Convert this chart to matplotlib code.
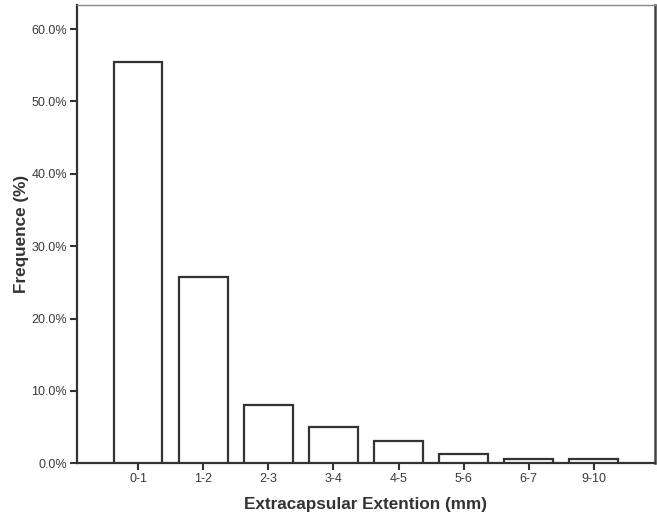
import matplotlib
matplotlib.use("Agg")
from matplotlib import pyplot as plt
from matplotlib.ticker import FuncFormatter

categories = ["0-1", "1-2", "2-3", "3-4", "4-5", "5-6", "6-7", "9-10"]
frequence = [55.4, 25.8, 8.1, 5.0, 3.1, 1.25, 0.6, 0.6]
yticks = [0, 10, 20, 30, 40, 50, 60]

plt.rcParams['font.family'] = ['Liberation Sans', 'DejaVu Sans']
dark = '#333333'

fig = plt.figure(figsize=(6.57, 5.17), dpi=100)
ax = fig.add_axes([0.117, 0.104, 0.88, 0.886])

x = range(len(categories))
ax.bar(x, frequence, width=0.75, color='white', edgecolor=dark, linewidth=1.6, zorder=3)

ax.set_xlim(-0.94, len(categories) - 1 + 0.94)
ax.set_ylim(0, 63.3)
ax.set_xticks(list(x))
ax.set_xticklabels(categories)
ax.set_yticks(yticks)
ax.yaxis.set_major_formatter(FuncFormatter(lambda v, p: f"{v:.1f}%"))

ax.tick_params(axis='both', direction='out', length=5, width=1.5, color=dark,
               labelsize=9, labelcolor='#3a3a3a', pad=2)

for side in ['left', 'bottom']:
    ax.spines[side].set_linewidth(1.6)
    ax.spines[side].set_color(dark)
ax.spines['top'].set_linewidth(1.0)
ax.spines['top'].set_color('#888888')
ax.spines['right'].set_linewidth(1.8)
ax.spines['right'].set_color('#444444')

ax.set_xlabel('Extracapsular Extention (mm)', fontsize=12.3, fontweight='bold', color=dark, labelpad=9)
ax.set_ylabel('Frequence (%)', fontsize=12.3, fontweight='bold', color=dark, labelpad=2)

fig.savefig('out.png', dpi=100)
